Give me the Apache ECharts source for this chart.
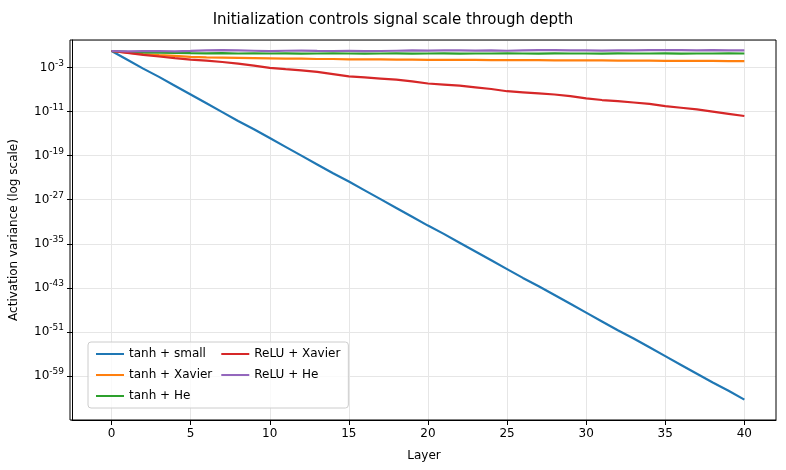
<!DOCTYPE html>
<html>
<head>
<meta charset="utf-8">
<script src="https://cdn.jsdelivr.net/npm/echarts@6/dist/echarts.min.js"></script>
<style>html,body{margin:0;padding:0;background:#fff}#chart{width:786px;height:470px}</style>
</head>
<body>
<div id="chart"></div>
<script>
// layer index 0..40
const layers = Array.from({ length: 41 }, (_, i) => i);

// log10(activation variance), one value per layer
const tanhSmall = [0, -1.6, -3.2, -4.7, -6.3, -7.9, -9.5, -11.1, -12.7, -14.2, -15.8, -17.4, -19, -20.6,
  -22.2, -23.7, -25.3, -26.9, -28.5, -30.1, -31.7, -33.2, -34.8, -36.4, -38, -39.6, -41.2, -42.7, -44.3,
  -45.9, -47.5, -49.1, -50.7, -52.2, -53.8, -55.4, -57, -58.6, -60.2, -61.7, -63.3];
const tanhXavier = [0, -0.3, -0.55, -0.75, -0.9, -1.05, -1.15, -1.2, -1.25, -1.3, -1.35, -1.4, -1.4, -1.45,
  -1.45, -1.5, -1.5, -1.5, -1.55, -1.55, -1.6, -1.6, -1.6, -1.6, -1.65, -1.65, -1.65, -1.65, -1.7, -1.7,
  -1.7, -1.7, -1.75, -1.75, -1.75, -1.8, -1.8, -1.8, -1.8, -1.85, -1.85];
const tanhHe = [0, -0.15, -0.25, -0.3, -0.35, -0.4, -0.42, -0.4, -0.45, -0.43, -0.45, -0.44, -0.46, -0.45,
  -0.43, -0.45, -0.47, -0.45, -0.44, -0.46, -0.45, -0.44, -0.46, -0.45, -0.45, -0.43, -0.45, -0.46, -0.44,
  -0.45, -0.45, -0.46, -0.44, -0.45, -0.45, -0.44, -0.46, -0.45, -0.45, -0.44, -0.45];
const reluXavier = [0, -0.35, -0.7, -1.0, -1.3, -1.55, -1.75, -2.0, -2.3, -2.65, -3.05, -3.3, -3.5, -3.8,
  -4.2, -4.6, -4.8, -5.0, -5.2, -5.5, -5.9, -6.1, -6.3, -6.6, -6.9, -7.3, -7.5, -7.7, -7.9, -8.2, -8.6,
  -8.9, -9.1, -9.35, -9.6, -10.0, -10.3, -10.6, -11.0, -11.4, -11.8];
const reluHe = [0, -0.05, -0.02, 0.0, -0.05, 0.02, 0.1, 0.15, 0.12, 0.05, -0.02, 0.05, 0.08, 0.03, 0.0,
  0.02, -0.03, 0.0, 0.05, 0.1, 0.08, 0.1, 0.12, 0.08, 0.1, 0.05, 0.12, 0.15, 0.15, 0.12, 0.1, 0.08, 0.1,
  0.12, 0.15, 0.18, 0.15, 0.12, 0.15, 0.1, 0.1];

const seriesDefs = [
  ['tanh + small', tanhSmall, '#1f77b4'],
  ['tanh + Xavier', tanhXavier, '#ff7f0e'],
  ['tanh + He', tanhHe, '#2ca02c'],
  ['ReLU + Xavier', reluXavier, '#d62728'],
  ['ReLU + He', reluHe, '#9467bd'],
];

const xTicks = [0, 5, 10, 15, 20, 25, 30, 35, 40];

const chart = echarts.init(document.getElementById('chart'));
const font = 'DejaVu Sans';

chart.setOption({
  animation: false,
  textStyle: { fontFamily: font },
  title: {
    text: 'Initialization controls signal scale through depth',
    left: 'center', top: 8,
    textStyle: { fontFamily: font, fontSize: 15, fontWeight: 'normal', color: '#000' },
  },
  grid: { left: 70, right: 10, top: 40, bottom: 50 },
  legend: {
    orient: 'vertical', left: 88, top: 342, height: 66,
    itemWidth: 28, itemHeight: 2, itemGap: 9,
    icon: 'rect',
    backgroundColor: 'rgba(255,255,255,0.8)',
    borderColor: '#ccc', borderWidth: 1, borderRadius: 3, padding: [6, 8],
    textStyle: { fontFamily: font, fontSize: 12, color: '#000' },
    data: seriesDefs.map(d => d[0]),
  },
  xAxis: {
    type: 'value', min: -2.5, max: 42,
    name: 'Layer', nameLocation: 'middle', nameGap: 30,
    nameTextStyle: { fontFamily: font, fontSize: 12, color: '#000' },
    axisLine: { onZero: false, lineStyle: { color: '#000' } },
    axisTick: { customValues: xTicks, lineStyle: { color: '#000' } },
    axisLabel: { customValues: xTicks, color: '#000', fontSize: 12 },
    splitLine: { show: true, lineStyle: { color: '#e6e6e6' } },
  },
  yAxis: {
    type: 'log', logBase: 10, min: 1e-67, max: 1e2, interval: 8,
    name: 'Activation variance (log scale)', nameLocation: 'middle', nameGap: 52,
    nameTextStyle: { fontFamily: font, fontSize: 12, color: '#000' },
    axisLine: { show: true, onZero: false, lineStyle: { color: '#000' } },
    axisTick: { show: true, lineStyle: { color: '#000' } },
    axisLabel: {
      showMinLabel: false, showMaxLabel: false, color: '#000',
      formatter: v => {
        const e = Math.round(Math.log10(v));
        return '10{sup|' + e + '}';
      },
      rich: { sup: { fontSize: 9, verticalAlign: 'top', padding: [0, 0, 8, 0], color: '#000' } },
      fontSize: 12,
    },
    splitLine: { show: true, lineStyle: { color: '#e6e6e6' } },
  },
  series: seriesDefs.map(([name, exps, color]) => ({
    name, type: 'line', showSymbol: false,
    lineStyle: { width: 2.2, color }, itemStyle: { color },
    data: layers.map(i => [i, Math.pow(10, exps[i])]),
  })),
});
// frame on top/right like matplotlib
chart.setOption({
  graphic: [{ type: 'rect', shape: { x: 70, y: 40, width: 706, height: 380 },
    style: { fill: 'none', stroke: '#000', lineWidth: 1 }, silent: true }],
});
</script>
</body>
</html>
